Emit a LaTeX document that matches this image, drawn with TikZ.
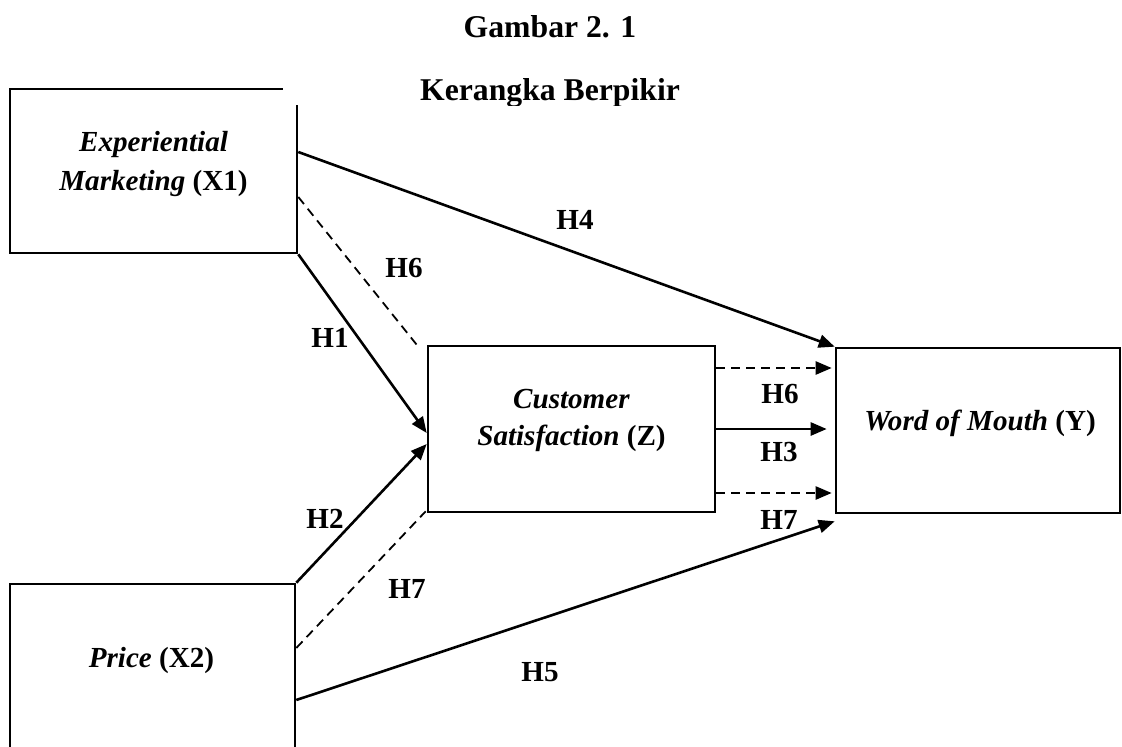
\documentclass[tikz,border=0pt]{standalone}
\usepackage{fontspec}
\setmainfont{Liberation Serif}
\usetikzlibrary{arrows.meta}
\begin{document}
\begin{tikzpicture}[x=1pt,y=-1pt,
  varbox/.style={draw, line width=2.6pt, inner sep=0pt},
  boxtext/.style={anchor=base, inner sep=0pt, font=\fontsize{29.1}{35}\selectfont\bfseries},
  hlabel/.style={inner sep=0pt, font=\fontsize{29.1}{35}\selectfont\bfseries},
  titletext/.style={anchor=base, inner sep=0pt, font=\fontsize{31.7}{38}\selectfont\bfseries},
  arr/.style={line width=2.6pt, -{Triangle[length=16pt,width=13pt]}},
  dsh/.style={line width=1.8pt, dash pattern=on 9pt off 6pt},
  dsharr/.style={line width=2.4pt, dash pattern=on 9pt off 6pt, -{Triangle[length=16pt,width=13pt]}}
]
\useasboundingbox (0,0) rectangle (1122,747);
\clip (0,0) rectangle (1122,747);
\fill[white] (0,0) rectangle (1122,747);

% variable boxes
\node[varbox, minimum width=287pt, minimum height=164pt] (x1) at (153.5,171) {};
\node[varbox, minimum width=287pt, minimum height=166pt] (z)  at (571.5,429) {};
\node[varbox, minimum width=284pt, minimum height=165pt] (y)  at (978,430.5) {};
\node[varbox, minimum width=285pt, minimum height=176pt] (x2) at (152.5,672) {};

% box texts
\node[boxtext] (x1a) at (153.5,151) {\textit{Experiential}};
\node[boxtext] (x1b) at (153.5,190) {\textit{Marketing} (X1)};
\node[boxtext] (za)  at (571.5,408) {\textit{Customer}};
\node[boxtext] (zb)  at (571.5,445) {\textit{Satisfaction} (Z)};
\node[boxtext] (ya)  at (980,430) {\textit{Word of Mouth} (Y)};
\node[boxtext] (x2a) at (151.5,667) {\textit{Price} (X2)};

% title block over the corner of the first box
\begin{scope}
  \clip (283,0) rectangle (1122,105);
  \fill[white] (283,0) rectangle (1122,105);
  \node[titletext] (t1) at (550,37) {Gambar 2. 1};
  \node[titletext] (t2) at (550,100) {Kerangka Berpikir};
\end{scope}

% direct paths
\draw[arr] ([yshift=19pt]x1.east) -- (y.north west);
\draw[arr] (x1.south east) -- ([yshift=-4pt]z.west);
\draw[arr] (x2.north east) -- ([yshift=-15pt]z.west);
\draw[arr] ([yshift=-28pt]x2.east) -- ([yshift=-7pt]y.south west);
\draw[arr] (z.east) -- ([xshift=-8pt,yshift=1.5pt]y.west);

% mediated paths
\draw[dsh] ([yshift=-26pt]x1.east) -- ([xshift=-10pt]z.north west);
\draw[dsh] ([yshift=24pt]x2.east) -- ([xshift=-1pt,yshift=2pt]z.south west);
\draw[dsharr] ([yshift=61pt]z.east) -- ([xshift=-3pt,yshift=62.5pt]y.west);
\draw[dsharr] ([yshift=-64pt]z.east) -- ([xshift=-3pt,yshift=-62.5pt]y.west);

% hypothesis labels
\node[hlabel] (h4)  at (575,220) {H4};
\node[hlabel] (h6a) at (404,268) {H6};
\node[hlabel] (h1)  at (330,338) {H1};
\node[hlabel] (h6b) at (780,394) {H6};
\node[hlabel] (h3)  at (779,452) {H3};
\node[hlabel] (h2)  at (325,519) {H2};
\node[hlabel] (h7b) at (779,520) {H7};
\node[hlabel] (h7a) at (407,589) {H7};
\node[hlabel] (h5)  at (540,672) {H5};
\end{tikzpicture}
\end{document}
